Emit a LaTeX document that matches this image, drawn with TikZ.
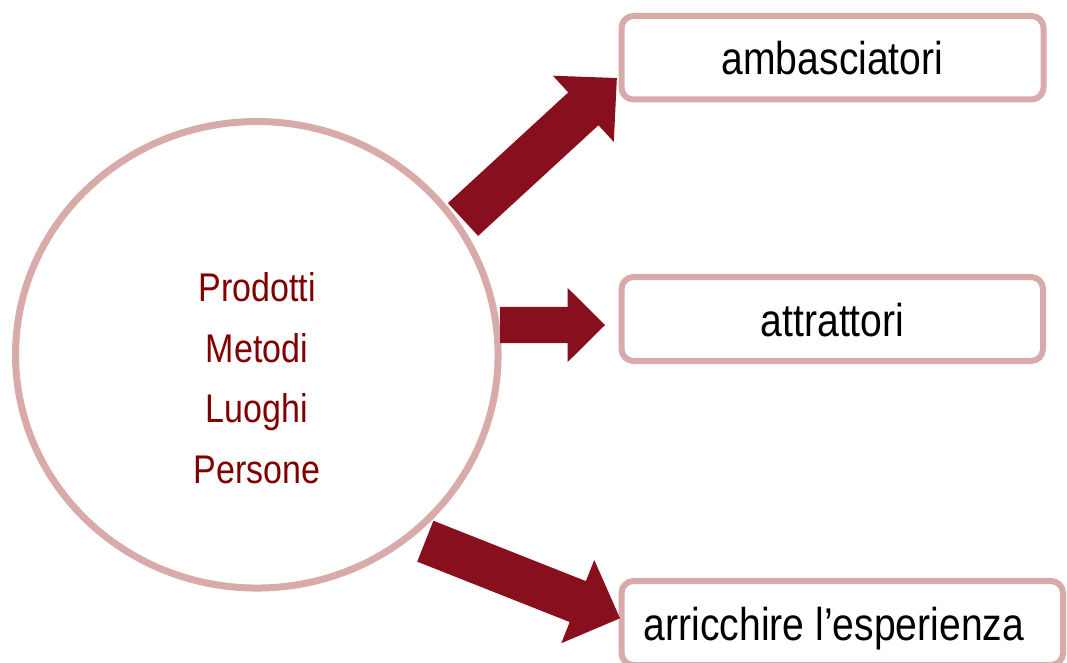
\documentclass[tikz,border=0pt]{standalone}
\usepackage{fontspec}
\usetikzlibrary{shapes.geometric}
\setmainfont{Liberation Sans}[FakeStretch=0.85]
\definecolor{arrowred}{RGB}{136,16,30}
\definecolor{rimpink}{RGB}{217,170,170}
\definecolor{textred}{RGB}{128,0,0}
\newcommand\blockarr[7]{% #1 tail, #2 tip (name), #3 angle, #4 length, #5 head length, #6 half shaft, #7 half head
  \fill[arrowstyle, shift={(#1)}, rotate=#3]
    (0,#6) -- ({#4-#5},#6) -- ({#4-#5},#7) -- (#4,0) coordinate (#2)
    -- ({#4-#5},-#7) -- ({#4-#5},-#6) -- (0,-#6) -- cycle;}
\begin{document}
\begin{tikzpicture}[x=1pt,y=-1pt,
  rim/.style={draw=rimpink, line width=7pt},
  box/.style={draw=rimpink, line width=6pt, rounded corners=12pt, fill=white, inner sep=0pt},
  boxtext/.style={font=\fontsize{46}{55}\selectfont, text=black, inner sep=0pt, anchor=base},
  centertext/.style={font=\fontsize{40}{60.5}\selectfont, text=textred, inner sep=0pt, align=center, anchor=base},
  arrowstyle/.style={fill=arrowred}]
\useasboundingbox (0,0) rectangle (1067,663);
\clip (0,0) rectangle (1067,663);
\fill[white] (0,0) rectangle (1067,663);
% central ellipse
\node[rim, ellipse, minimum width=482.5pt, minimum height=466.5pt, inner sep=0pt] (hub) at (256.8,354.8) {};
\node[centertext] (words) at (257,483.3) {Prodotti\\Metodi\\Luoghi\\Persone};
% boxes
\node[box, minimum width=422pt, minimum height=83.5pt] (b1) at (832.5,57.75) {};
\node[boxtext] (t1) at (832.5,75) {ambasciatori};
\node[box, minimum width=421.5pt, minimum height=84pt] (b2) at (832.25,319) {};
\node[boxtext] (t2) at (832.5,336) {attrattori};
\node[box, minimum width=441.5pt, minimum height=84pt] (b3) at (842.25,623) {};
\node[boxtext] (t3) at (834,640) {arricchire l’esperienza};
% arrows
\coordinate (s1) at (463,219.5);
\coordinate (s2) at (500,325);
\coordinate (s3) at (425.3,541.2);
\blockarr{s1}{e1}{42.6}{209}{45.5}{22.3}{45}
\blockarr{s2}{e2}{0}{105}{37.3}{18.2}{37}
\blockarr{s3}{e3}{-21.6}{209.4}{45.4}{22}{44.8}
\end{tikzpicture}
\end{document}
